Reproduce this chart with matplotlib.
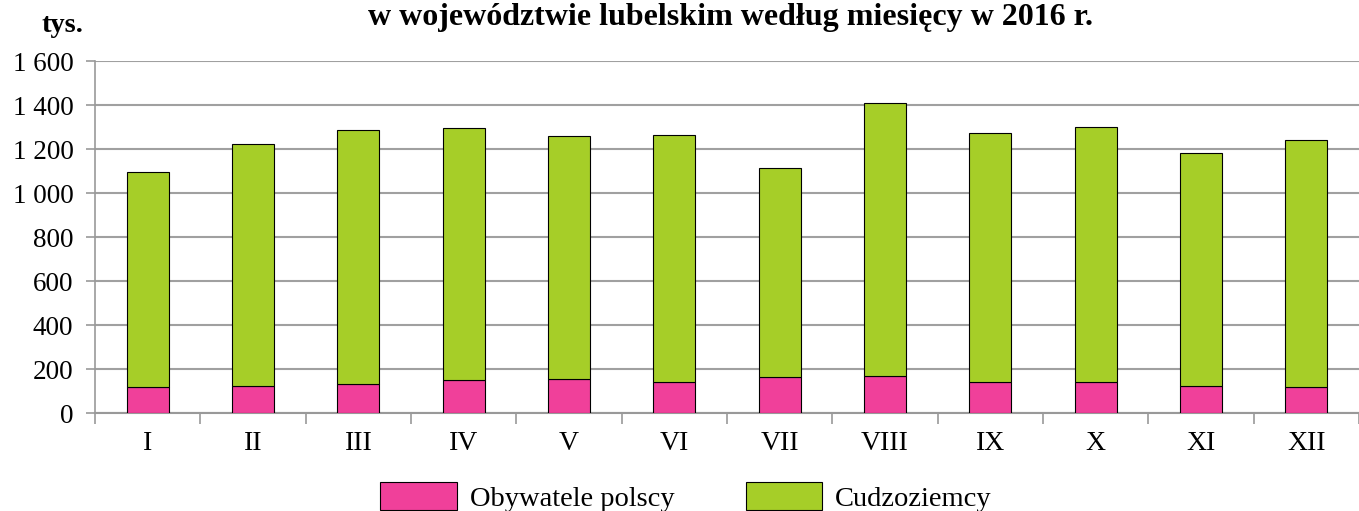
import matplotlib.pyplot as plt
from matplotlib.patches import Patch
import numpy as np

months = ["I", "II", "III", "IV", "V", "VI", "VII", "VIII", "IX", "X", "XI", "XII"]
polacy = [117, 123, 132, 150, 156, 139, 163, 170, 141, 139, 124, 118]
razem = [1097, 1224, 1287, 1296, 1260, 1265, 1115, 1410, 1274, 1301, 1183, 1242]
cudzoziemcy = [r - p for r, p in zip(razem, polacy)]

yticks = [0, 200, 400, 600, 800, 1000, 1200, 1400, 1600]
ylabels = ["0", "200", "400", "600", "800", "1 000", "1 200", "1 400", "1 600"]

pink = "#f0409a"
green = "#a6ce28"

plt.rcParams["font.family"] = "Liberation Serif"

fig = plt.figure(figsize=[13.59, 5.11], dpi=100)
ax = fig.add_axes([95 / 1359, 98 / 511, 1 - 95 / 1359, 352 / 511])

x = np.arange(len(months))
ax.bar(x, polacy, width=0.4, color=pink, edgecolor="black", linewidth=0.8, zorder=3)
ax.bar(x, cudzoziemcy, bottom=polacy, width=0.4, color=green, edgecolor="black", linewidth=0.8, zorder=3)

ax.set_xlim(-0.5, len(months) - 0.5)
ax.set_ylim(0, 1600)
ax.set_yticks(yticks)
ax.set_yticklabels(ylabels, fontsize=19.5)
ax.set_xticks(x)
ax.set_xticklabels(months, fontsize=20)
ax.tick_params(axis="x", length=0, pad=13)
ax.tick_params(axis="y", length=6.5, color="#999999", width=1.2, pad=9)
ax.set_xticks(np.arange(-0.5, len(months), 1), minor=True)
ax.tick_params(axis="x", which="minor", length=8, color="#999999", width=1.2)

ax.grid(axis="y", color="#a0a0a0", linewidth=1.5, zorder=0)
for s in ["top", "right"]:
    ax.spines[s].set_visible(False)
ax.spines["left"].set_color("#999999")
ax.spines["left"].set_linewidth(1.2)
ax.spines["bottom"].set_color("#999999")
ax.spines["bottom"].set_linewidth(1.5)

fig.text(62 / 1359, 1 - 26 / 511, "tys.", fontsize=20.5, fontweight="bold", ha="center", va="center")
fig.text(730 / 1359, 1 - 17 / 511, "w województwie lubelskim według miesięcy w 2016 r.",
         fontsize=23, fontweight="bold", ha="center", va="center")

handles = [Patch(facecolor=pink, edgecolor="black", linewidth=0.8, label="Obywatele polscy"),
           Patch(facecolor=green, edgecolor="black", linewidth=0.8, label="Cudzoziemcy")]
fig.legend(handles=handles, loc="center", bbox_to_anchor=(686 / 1359, 14 / 511), ncol=2,
           frameon=False, fontsize=20.5, handlelength=2.7, handleheight=1.1,
           columnspacing=2.5, handletextpad=0.45, borderpad=0, borderaxespad=0)

fig.savefig("out.png", dpi=100)
